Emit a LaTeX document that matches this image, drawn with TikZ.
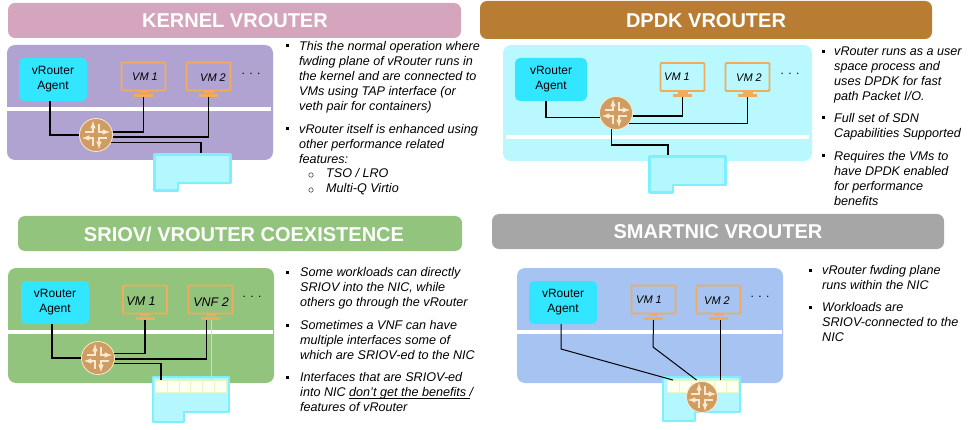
\documentclass[tikz,border=0pt]{standalone}
\usepackage{fontspec}
\setmainfont{Liberation Sans}
\usetikzlibrary{positioning}
\definecolor{kernelhead}{HTML}{D4A5BC}
\definecolor{kernelpanel}{HTML}{B1A3D1}
\definecolor{dpdkhead}{HTML}{B87D33}
\definecolor{dpdkpanel}{HTML}{B9F8FF}
\definecolor{sriovhead}{HTML}{93C47D}
\definecolor{nichead}{HTML}{A6A6A6}
\definecolor{nicpanel}{HTML}{A7C3F1}
\definecolor{agentfill}{HTML}{33E6FF}
\definecolor{vmline}{HTML}{F0AC5C}
\definecolor{nicline}{HTML}{7DF0FF}
\definecolor{nicfill}{HTML}{B5F7FF}
\definecolor{routerfill}{HTML}{CF9C62}
\definecolor{routerline}{HTML}{FBE8CE}
\definecolor{srline}{HTML}{D2F53C}
\definecolor{portfill}{HTML}{FDFFF0}
\definecolor{portline}{HTML}{E6F7C8}
\tikzset{
	headbar/.style={rounded corners=7pt},
	headtext/.style={text=white, font=\fontsize{20}{22}\selectfont\bfseries},
	panel/.style={rounded corners=8pt},
	agentbox/.style={fill=agentfill, rounded corners=5pt, minimum width=68pt, minimum height=43pt, inner sep=0pt, align=center, font=\fontsize{12}{15}\selectfont},
	vmbox/.style={draw=vmline, line width=1.8pt, rounded corners=1pt, minimum width=44pt, minimum height=28pt, inner sep=0pt},
	vmstand/.style={fill=vmline, minimum width=19pt, minimum height=3.2pt, inner sep=0pt},
	vmlabel/.style={font=\fontsize{11}{13}\selectfont\itshape, inner sep=0pt},
	dotsmark/.style={font=\fontsize{12}{13}\selectfont, inner sep=0pt},
	wire/.style={line width=1.3pt, black},
	niccase/.style={draw=nicline, fill=nicfill, line width=2.6pt, line join=round},
	nicport/.style={draw=portline, fill=portfill, line width=.4pt, minimum width=11.8pt, minimum height=11.5pt, inner sep=0pt},
	routernode/.style={circle, fill=routerfill, draw=routerline, line width=.8pt, minimum size=33pt, inner sep=0pt},
	routerglyph/.style={routerline, line width=1.5pt, -latex},
	bodytext/.style={anchor=north west, yshift=-2pt, inner sep=0pt, align=left, font=\fontsize{12.6}{15}\selectfont\itshape},
	sqbullet/.style={fill=black, minimum size=3pt, inner sep=0pt},
	ringbullet/.style={circle, draw=black, line width=.4pt, minimum size=4.5pt, inner sep=0pt}
}
\newcommand{\vmunit}[4]{
	\node[vmbox] (#1) at (#2) {};
	\node[vmstand, below=2pt of #1] (#1s) {};
	\fill[vmline] ([xshift=-5pt]#1.south) rectangle ([xshift=5pt]#1s.north);
	\node[vmlabel] (#1t) at (#3) {#4};
}
\newcommand{\routermark}[1]{
	\begin{scope}[shift={(#1)}]
		\draw[routerglyph] (-11,-3) -- (-3,-3) -- (-3,-14);
		\draw[routerglyph] (3,-11) -- (3,-3) -- (14,-3);
		\draw[routerglyph] (11,3) -- (3,3) -- (3,14);
		\draw[routerglyph] (-3,11) -- (-3,3) -- (-14,3);
	\end{scope}
}
\begin{document}
\begin{tikzpicture}[x=1pt,y=-1pt]
	\useasboundingbox (0,0) rectangle (973,430);

	\fill[headbar, fill=kernelhead] (8,3) rectangle (461,38) node[headtext] (head1) at (235,21) {KERNEL VROUTER};
	\fill[panel, fill=kernelpanel] (7,45) rectangle (273,160);
	\fill[white] (7,107) rectangle (271,111);
	\node[agentbox] (agent1) at (53,79.5) {vRouter\\Agent};
	\vmunit{vm1}{143.5,76.5}{145,77}{VM 1}
	\vmunit{vm2}{208.5,76.5}{213,78}{VM 2}
	\node[dotsmark] (dots1) at (251,74) {. . .};
	\draw[niccase] (154.5,154.5) -- (230.5,154.5) -- (230.5,183) -- (178,183) -- (178,190.5) -- (154.5,190.5) -- cycle;
	\coordinate (nic1) at (201,153);
	\node[routernode] (r1) at (96,135) {};
	\routermark{96,135}
	\draw[wire] (agent1.-98) |- (r1.west);
	\draw[wire] (vm1s.south) |- (r1.10);
	\draw[wire] (vm2s.south) |- (r1.-7);
	\draw[wire] (nic1) |- (r1.-27);

	\fill[headbar, fill=dpdkhead] (480,1) rectangle (932,39) node[headtext] (head2) at (706,21) {DPDK VROUTER};
	\fill[panel, fill=dpdkpanel] (503,45) rectangle (812,161);
	\fill[white] (506,135) rectangle (809,139);
	\node[agentbox, minimum width=72pt] (agent2) at (551,79.5) {vRouter\\Agent};
	\vmunit{vm3}{682.5,77}{677,77}{VM 1}
	\vmunit{vm4}{747.5,77}{749,78}{VM 2}
	\node[dotsmark] (dots2) at (790,74) {. . .};
	\draw[niccase] (649.5,156.5) -- (725.5,156.5) -- (725.5,185) -- (673,185) -- (673,192.5) -- (649.5,192.5) -- cycle;
	\coordinate (nic2) at (668,155);
	\coordinate (bend2) at (668,145);
	\node[routernode] (r2) at (616,113) {};
	\routermark{616,113}
	\draw[wire] (agent2.-103) |- (r2.-164);
	\draw[wire] (vm3s.south) |- (r2.-10);
	\draw[wire] (vm4s.south) |- (r2.-38);
	\draw[wire] (r2.255) |- (bend2) -- (nic2);

	\fill[headbar, fill=sriovhead] (18,216) rectangle (462,251) node[headtext] (head3) at (244,234) {SRIOV/ VROUTER COEXISTENCE};
	\fill[panel, fill=sriovhead] (8,268) rectangle (274,383);
	\fill[white] (8,330) rectangle (273,334);
	\node[agentbox] (agent3) at (55,302.5) {vRouter\\Agent};
	\vmunit{vm5}{145,299.5}{141,301}{\fontsize{12.5}{14}\selectfont VM 1}
	\vmunit{vm6}{210.5,299.5}{211,302}{\fontsize{12.5}{14}\selectfont VNF 2}
	\node[dotsmark] (dots3) at (252,297) {. . .};
	\draw[niccase] (153,377) -- (229,377) -- (229,412) -- (184,412) -- (184,422) -- (153,422) -- cycle;
	\foreach \i in {0,...,5}
		\node[nicport] (p3\i) at ({161+11.8*\i},386) {};
	\node[routernode] (r3) at (98,358) {};
	\routermark{98,358}
	\draw[wire] (agent3.-98) |- (r3.west);
	\draw[wire] (vm5s.south) |- (r3.15);
	\draw[wire] ([xshift=-4pt]vm6s.south) |- (r3.-3);
	\draw[wire] (p30.north) |- (r3.-20);
	\draw[srline, line width=1.4pt] ([xshift=1pt]vm6s.south) -- ([xshift=1pt]vm6s.south |- p34.north);

	\fill[headbar, fill=nichead] (492,214) rectangle (944,249) node[headtext] (head4) at (718,232) {SMARTNIC VROUTER};
	\fill[panel, fill=nicpanel] (517,268) rectangle (783,383);
	\fill[white] (517,330) rectangle (782,334);
	\node[agentbox] (agent4) at (563,302.5) {vRouter\\Agent};
	\vmunit{vm7}{653.5,299.5}{649,300}{VM 1}
	\vmunit{vm8}{718.5,299.5}{717,301}{VM 2}
	\node[dotsmark] (dots4) at (760,297) {. . .};
	\draw[niccase] (663,377) -- (740,377) -- (740,412) -- (695,412) -- (695,421) -- (663,421) -- cycle;
	\foreach \i in {0,...,5}
		\node[nicport] (p4\i) at ({673+11.8*\i},386) {};
	\coordinate (bend4a) at (561,349);
	\coordinate (bend4b) at (653,347);
	\draw[wire, line width=1pt] (agent4.-95) -- (bend4a) -- (p40.north);
	\draw[wire, line width=1pt] (vm7s.south) -- (bend4b) -- (p42.north);
	\draw[wire, line width=1pt] (p44.north |- vm8s.south) -- (p44.north);
	\node[routernode, minimum size=31pt] (r4) at (702,397) {};
	\routermark{702,397}

	\node[sqbullet] (b1) at (287,46) {};
	\node[bodytext] (t1) at (299,39) {This the normal operation where\\fwding plane of vRouter runs in\\the kernel and are connected to\\VMs using TAP interface (or\\veth pair for containers)};
	\node[sqbullet] (b2) at (287,129) {};
	\node[bodytext] (t2) at (299,122) {vRouter itself is enhanced using\\other performance related\\features:};
	\node[ringbullet] (b3) at (311,175) {};
	\node[bodytext] (t3) at (326,166) {TSO / LRO\\Multi-Q Virtio};
	\node[ringbullet] (b4) at (311,190) {};

	\node[sqbullet] (b5) at (823,52) {};
	\node[bodytext] (t5) at (834,45) {vRouter runs as a user\\space process and\\uses DPDK for fast\\path Packet I/O.};
	\node[sqbullet] (b6) at (823,118) {};
	\node[bodytext] (t6) at (834,111) {Full set of SDN\\Capabilities Supported};
	\node[sqbullet] (b7) at (823,156) {};
	\node[bodytext] (t7) at (834,149) {Requires the VMs to\\have DPDK enabled\\for performance\\benefits};

	\node[sqbullet] (b8) at (287,272) {};
	\node[bodytext] (t8) at (300,265) {Some workloads can directly\\SRIOV into the NIC, while\\others go through the vRouter};
	\node[sqbullet] (b9) at (287,325) {};
	\node[bodytext] (t9) at (300,318) {Sometimes a VNF can have\\multiple interfaces some of\\which are SRIOV-ed to the NIC};
	\node[sqbullet] (b10) at (287,377) {};
	\node[bodytext] (t10) at (300,370) {Interfaces that are SRIOV-ed\\into NIC \underline{\smash{don't get the benefits }}/\\features of vRouter};

	\node[sqbullet] (b11) at (810,270) {};
	\node[bodytext] (t11) at (822,263) {vRouter fwding plane\\runs within the NIC};
	\node[sqbullet] (b12) at (810,307) {};
	\node[bodytext] (t12) at (822,300) {Workloads are\\SRIOV-connected to the\\NIC};
\end{tikzpicture}
\end{document}
